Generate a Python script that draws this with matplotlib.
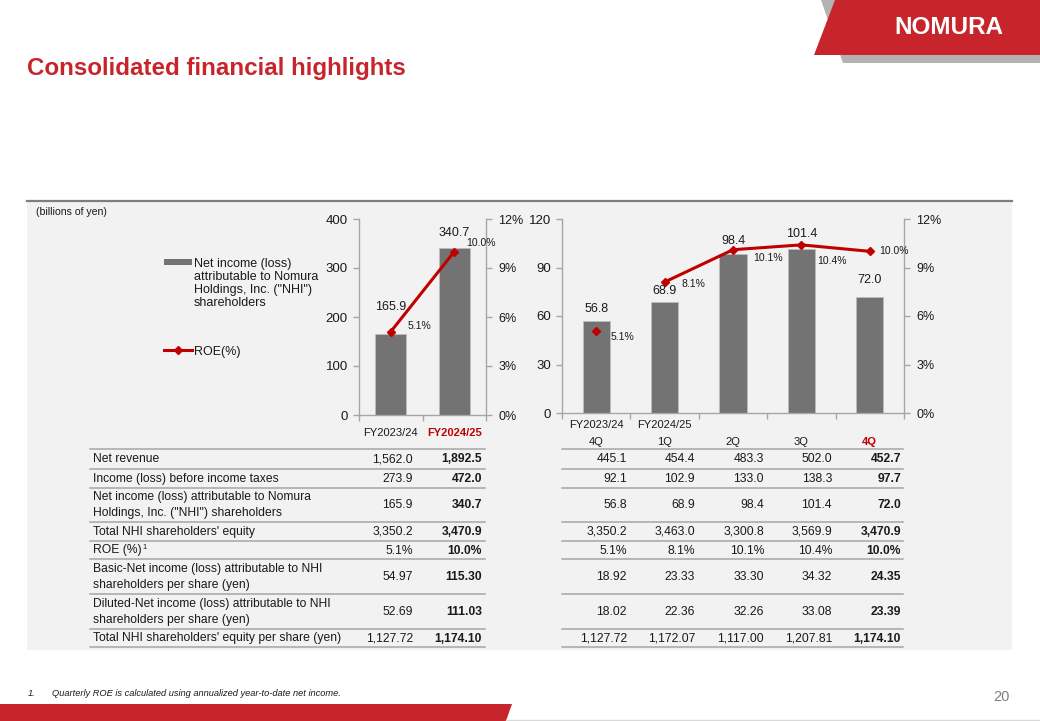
import matplotlib
matplotlib.use("Agg")
import matplotlib.pyplot as plt
import numpy as np
from matplotlib.patches import Rectangle, Polygon
from matplotlib.lines import Line2D
from matplotlib.ticker import FuncFormatter

plt.rcParams['font.family'] = ['Liberation Sans', 'DejaVu Sans']

# ---------------- data ----------------
annual_periods = ["FY2023/24", "FY2024/25"]
annual_net_income = [165.9, 340.7]
annual_roe = [5.1, 10.0]

quarter_fy = ["FY2023/24", "FY2024/25", "", "", ""]
quarter_labels = ["4Q", "1Q", "2Q", "3Q", "4Q"]
quarter_net_income = [56.8, 68.9, 98.4, 101.4, 72.0]
quarter_roe = [5.1, 8.1, 10.1, 10.4, 10.0]

row_labels = [
    "Net revenue",
    "Income (loss) before income taxes",
    "Net income (loss) attributable to Nomura\nHoldings, Inc. (\"NHI\") shareholders",
    "Total NHI shareholders' equity",
    "ROE (%)",
    "Basic-Net income (loss) attributable to NHI\nshareholders per share (yen)",
    "Diluted-Net income (loss) attributable to NHI\nshareholders per share (yen)",
    "Total NHI shareholders' equity per share (yen)",
]
row_footnotes = ["", "", "", "", "1", "", "", ""]
col_fy2324 = ["1,562.0", "273.9", "165.9", "3,350.2", "5.1%", "54.97", "52.69", "1,127.72"]
col_fy2425 = ["1,892.5", "472.0", "340.7", "3,470.9", "10.0%", "115.30", "111.03", "1,174.10"]
col_q4_2324 = ["445.1", "92.1", "56.8", "3,350.2", "5.1%", "18.92", "18.02", "1,127.72"]
col_q1_2425 = ["454.4", "102.9", "68.9", "3,463.0", "8.1%", "23.33", "22.36", "1,172.07"]
col_q2_2425 = ["483.3", "133.0", "98.4", "3,300.8", "10.1%", "33.30", "32.26", "1,117.00"]
col_q3_2425 = ["502.0", "138.3", "101.4", "3,569.9", "10.4%", "34.32", "33.08", "1,207.81"]
col_q4_2425 = ["452.7", "97.7", "72.0", "3,470.9", "10.0%", "24.35", "23.39", "1,174.10"]

# ---------------- style ----------------
RED = '#c8242b'
LINE_RED = '#c00000'
BAR = '#737373'
GREY = '#a6a6a6'
TXT = '#1a1a1a'

W, H = 1040, 721
fig = plt.figure(figsize=(W / 100, H / 100), dpi=100)

bg = fig.add_axes([0, 0, 1, 1])
bg.set_xlim(0, W)
bg.set_ylim(H, 0)
bg.axis('off')
bg.set_zorder(0)


def ax_rect(l, t, r, b):
    return [l / W, 1 - b / H, (r - l) / W, (b - t) / H]


# header / logo
bg.add_patch(Polygon([(821, 0), (1040, 0), (1040, 63), (843, 63)], closed=True, fc='#b3b3b3', ec='none'))
bg.add_patch(Polygon([(835, 0), (1040, 0), (1040, 55), (814, 55)], closed=True, fc=RED, ec='none'))
bg.text(949, 28, "NOMURA", color='white', fontsize=17.5, fontweight='bold', ha='center', va='center')
bg.text(27, 68, "Consolidated financial highlights", color=RED, fontsize=17.4, fontweight='bold',
        ha='left', va='center')

# footer
bg.add_patch(Polygon([(0, 704), (512, 704), (506, 721), (0, 721)], closed=True, fc=RED, ec='none'))
bg.add_line(Line2D([506, 1040], [720, 720], color='#d9d9d9', lw=1))
bg.text(28, 693, "1.", fontsize=6.7, style='italic', color=TXT, va='center')
bg.text(52, 693, "Quarterly ROE is calculated using annualized year-to-date net income.",
        fontsize=6.7, style='italic', color=TXT, va='center')
bg.text(1001, 697, "20", fontsize=10.5, color='#7f7f7f', ha='center', va='center')

# panel
bg.add_patch(Rectangle((27, 201), 985, 449, fc='#f2f2f2', ec='none'))
bg.add_line(Line2D([27, 1012], [200.5, 200.5], color='#7f7f7f', lw=1.6))
bg.text(36, 212, "(billions of yen)", fontsize=7.6, color=TXT, va='center')

# legend
bg.add_patch(Rectangle((164, 259), 28, 6, fc=BAR, ec='none'))
legend_lines = ["Net income (loss)", "attributable to Nomura", "Holdings, Inc. (\"NHI\")", "shareholders"]
for k, t in enumerate(legend_lines):
    bg.text(194, 262 + 13 * k, t, fontsize=9, color=TXT, va='center_baseline', ha='left')
bg.add_line(Line2D([164, 192], [350, 350], color=LINE_RED, lw=2.2))
bg.add_line(Line2D([178], [350], color=LINE_RED, marker='D', ms=4.5, lw=0))
bg.text(194, 350, "ROE(%)", fontsize=9, color=TXT, va='center_baseline', ha='left')


def style_axes(ax, axr, n, ymax, ystep):
    ax.set_xlim(-0.5, n - 0.5)
    ax.set_ylim(0, ymax)
    ax.set_yticks(np.arange(0, ymax + 1, ystep))
    axr.set_ylim(0, 12)
    axr.set_yticks([0, 3, 6, 9, 12])
    axr.yaxis.set_major_formatter(FuncFormatter(lambda v, p: f"{v:.0f}%"))
    for a in (ax, axr):
        a.patch.set_visible(False)
        for s in a.spines.values():
            s.set_visible(False)
    ax.spines['left'].set_visible(True)
    ax.spines['bottom'].set_visible(True)
    axr.spines['right'].set_visible(True)
    for s in (ax.spines['left'], ax.spines['bottom'], axr.spines['right']):
        s.set_color(GREY)
        s.set_linewidth(1.0)
    ax.tick_params(axis='y', direction='out', length=4, width=1, color=GREY,
                   labelsize=9.5, labelcolor=TXT, pad=4)
    axr.tick_params(axis='y', direction='out', length=4, width=1, color=GREY,
                    labelsize=9, labelcolor=TXT, pad=5)
    ax.set_xticks(np.arange(n))
    ax.set_xticks(np.arange(-0.5, n), minor=True)
    ax.tick_params(axis='x', which='major', length=0, labelsize=8, labelcolor=TXT)
    ax.tick_params(axis='x', which='minor', length=4, width=1, color=GREY, direction='out')


# ---------------- left chart (annual) ----------------
ax1 = fig.add_axes(ax_rect(359, 219, 486, 415))
ax1.set_zorder(2)
ax1r = ax1.twinx()
ax1r.set_zorder(3)
style_axes(ax1, ax1r, len(annual_periods), 400, 100)
x1 = np.arange(len(annual_periods))
ax1.bar(x1, annual_net_income, width=0.49, color=BAR, edgecolor='#bdbdbd', linewidth=0.6, zorder=2)
ax1.set_xticklabels(annual_periods)
ax1.tick_params(axis='x', which='major', pad=9)
lbls = ax1.get_xticklabels()
lbls[-1].set_color(LINE_RED)
lbls[-1].set_fontweight('bold')
ax1r.plot(x1, annual_roe, color=LINE_RED, lw=2.2, marker='D', ms=4.5, zorder=4)

bar_off_annual = [(0, 19.5), (0, 11)]
for xi, v, off in zip(x1, annual_net_income, bar_off_annual):
    ax1.annotate(f"{v:.1f}", (xi, v), xytext=off, textcoords='offset points',
                 ha='center', va='center', fontsize=9, color=TXT)
roe_off_annual = [(21, 4.3), (19.5, 6.5)]
for xi, v, off in zip(x1, annual_roe, roe_off_annual):
    ax1r.annotate(f"{v:.1f}%", (xi, v), xytext=off, textcoords='offset points',
                  ha='center', va='center', fontsize=7.5, color=TXT)

# ---------------- right chart (quarterly) ----------------
ax2 = fig.add_axes(ax_rect(562, 219, 904, 413))
ax2.set_zorder(2)
ax2r = ax2.twinx()
ax2r.set_zorder(3)
style_axes(ax2, ax2r, len(quarter_labels), 120, 30)
x2 = np.arange(len(quarter_labels))
ax2.bar(x2, quarter_net_income, width=0.4, color=BAR, edgecolor='#bdbdbd', linewidth=0.6, zorder=2)
ax2.set_xticklabels(quarter_labels)
ax2.tick_params(axis='x', which='major', pad=17)
lbls = ax2.get_xticklabels()
lbls[-1].set_color(LINE_RED)
lbls[-1].set_fontweight('bold')
for xi, fy in zip(x2, quarter_fy):
    if fy:
        ax2.annotate(fy, (xi, 0), xycoords=('data', 'axes fraction'), xytext=(0, -8.6),
                     textcoords='offset points', ha='center', va='center', fontsize=8, color=TXT)
# previous fiscal year point (standalone) and current fiscal year line
ax2r.plot(x2[:1], quarter_roe[:1], color=LINE_RED, lw=0, marker='D', ms=4.5, zorder=4)
ax2r.plot(x2[1:], quarter_roe[1:], color=LINE_RED, lw=2.2, marker='D', ms=4.5, zorder=4)

bar_off_q = [8.6, 7.4, 9.1, 10.6, 12.0]
for xi, v, dy in zip(x2, quarter_net_income, bar_off_q):
    ax2.annotate(f"{v:.1f}", (xi, v), xytext=(0, dy), textcoords='offset points',
                 ha='center', va='center', fontsize=9, color=TXT)
roe_off_q = [(18.7, -4.3), (20.9, -1.4), (25.2, -5.8), (22.3, -11.5), (17.3, 0)]
for xi, v, off in zip(x2, quarter_roe, roe_off_q):
    ax2r.annotate(f"{v:.1f}%", (xi, v), xytext=off, textcoords='offset points',
                  ha='center', va='center', fontsize=7.5, color=TXT)

# ---------------- tables ----------------
line_y = [449.3, 468.7, 487.7, 521.7, 540.7, 559.3, 594.0, 628.7, 647.3]
for y in line_y:
    bg.add_line(Line2D([90, 485], [y, y], color=GREY, lw=1.1))
    bg.add_line(Line2D([562, 903], [y, y], color=GREY, lw=1.1))

annual_cols = [(col_fy2324, 413, 'normal'), (col_fy2425, 482, 'bold')]
quarter_cols = [(col_q4_2324, 627, 'normal'), (col_q1_2425, 695, 'normal'),
                (col_q2_2425, 764, 'normal'), (col_q3_2425, 832, 'normal'),
                (col_q4_2425, 901, 'bold')]
for i, lab in enumerate(row_labels):
    yc = (line_y[i] + line_y[i + 1]) / 2 - 1
    parts = lab.split("\n")
    for k, part in enumerate(parts):
        yk = yc + (k - (len(parts) - 1) / 2) * 16
        t = bg.text(93, yk, part, fontsize=8.7, color=TXT, ha='left', va='center_baseline')
    if row_footnotes[i]:
        bg.annotate(row_footnotes[i], xy=(1, 1), xycoords=t, xytext=(0.8, 0.5),
                    textcoords='offset points', ha='left', va='top', fontsize=5.5, color=TXT)
    for col, xr, wt in annual_cols + quarter_cols:
        bg.text(xr, yc, col[i], fontsize=8.7, color=TXT, ha='right', va='center_baseline',
                fontweight=wt)

fig.savefig("out.png", dpi=100)
